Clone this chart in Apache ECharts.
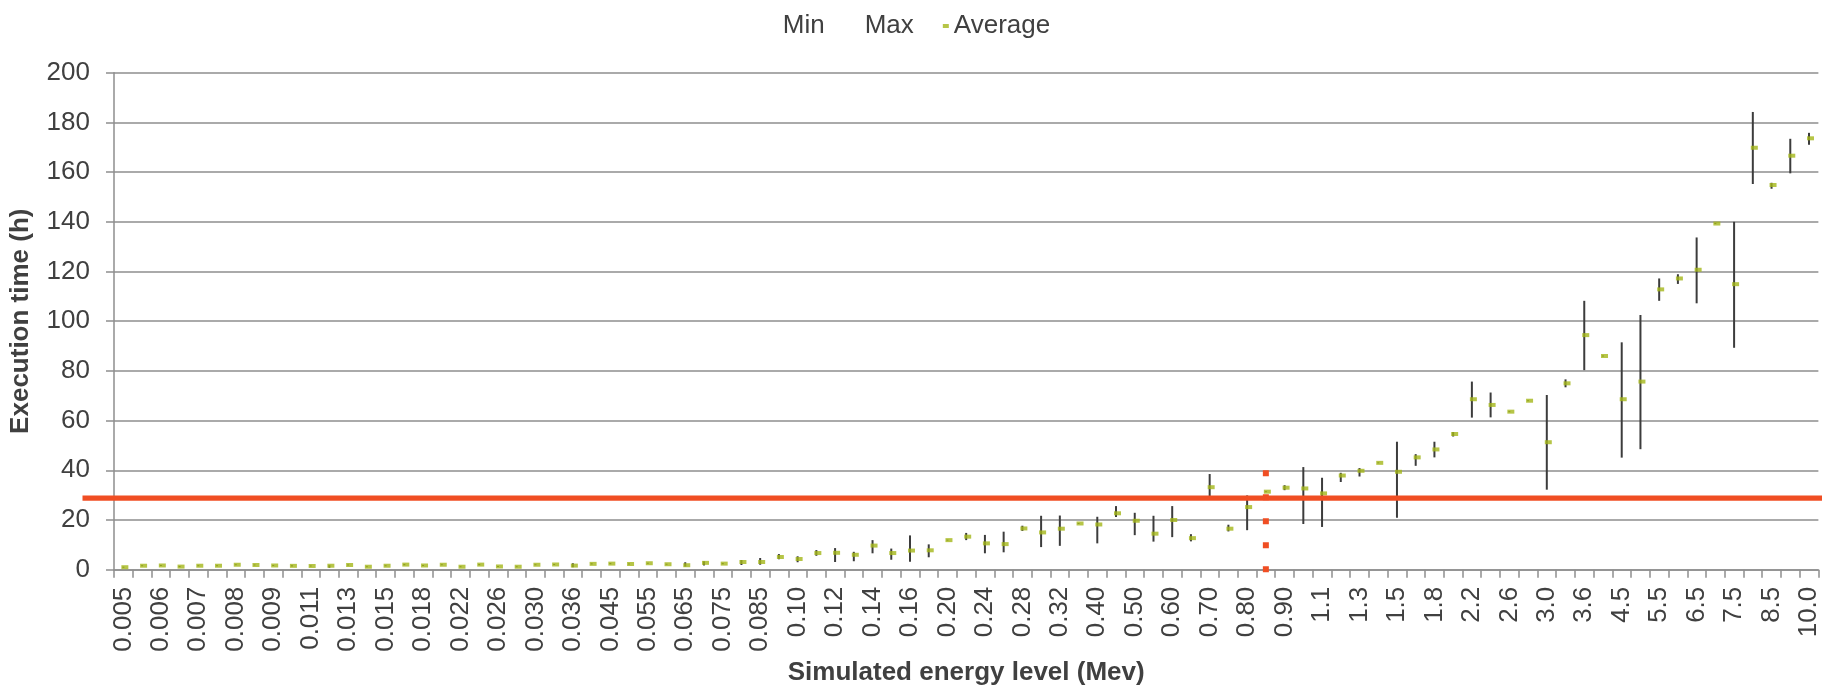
<!DOCTYPE html>
<html>
<head>
<meta charset="utf-8">
<script src="https://cdn.jsdelivr.net/npm/echarts@6/dist/echarts.min.js"></script>
<style>
html,body{margin:0;padding:0;background:#fff;}
#chart{width:1822px;height:692px;}
</style>
</head>
<body>
<div id="chart"></div>
<script>
const categories = ['0.005','0.0055','0.006','0.0065','0.007','0.0075','0.008','0.0085','0.009','0.010',
'0.011','0.012','0.013','0.014','0.015','0.016','0.018','0.020','0.022','0.024',
'0.026','0.028','0.030','0.032','0.036','0.040','0.045','0.050','0.055','0.060',
'0.065','0.070','0.075','0.080','0.085','0.090','0.10','0.11','0.12','0.13',
'0.14','0.15','0.16','0.18','0.20','0.22','0.24','0.26','0.28','0.30',
'0.32','0.36','0.40','0.45','0.50','0.55','0.60','0.65','0.70','0.75',
'0.80','0.85','0.90','1.0','1.1','1.2','1.3','1.4','1.5','1.6',
'1.8','2.0','2.2','2.4','2.6','2.8','3.0','3.2','3.6','4.0',
'4.5','5.0','5.5','6.0','6.5','7.0','7.5','8.0','8.5','9.0','10.0'];

const minValues = [0.8,1.4,1.5,1.0,1.4,1.4,1.8,1.7,1.5,1.3,
1.3,0.8,1.7,1.0,1.4,1.8,1.5,1.8,1.0,1.8,
1.1,1.0,1.8,1.9,1.0,2.1,2.2,2.1,2.4,2.0,
1.3,1.7,2.2,1.9,2.0,4.2,3.0,5.6,3.1,3.4,
6.6,4.0,3.2,5.0,11.7,11.9,6.6,7.0,15.6,9.1,
9.6,18.4,10.6,21.2,13.9,11.3,13.1,11.4,28.6,15.4,
15.9,31.2,32.0,18.4,17.2,35.3,37.5,42.8,20.9,41.8,
45.2,53.6,61.2,61.3,63.4,67.8,32.2,73.4,80.3,85.8,
45.1,48.5,108.2,115.0,107.2,139.1,89.3,155.2,153.3,159.5,171.0];

const maxValues = [1.2,1.8,1.9,1.5,1.8,1.8,2.2,2.1,1.9,1.8,
1.7,1.8,2.1,1.4,1.8,2.3,1.9,2.2,1.4,2.3,
1.5,1.4,2.2,2.3,2.6,2.6,2.7,2.5,2.8,2.4,
3.0,3.4,2.7,3.9,4.7,6.3,5.4,7.9,8.7,7.2,
11.9,8.5,13.8,10.2,12.1,14.8,14.0,15.3,17.7,21.7,
21.8,18.8,21.3,25.6,22.9,21.7,25.6,14.3,38.5,18.1,
29.9,31.6,34.0,41.3,37.0,39.0,40.9,43.2,51.5,46.5,
51.5,55.4,75.7,71.3,63.8,68.2,70.3,76.6,108.2,86.2,
91.5,102.5,117.2,118.9,133.7,139.5,140.0,184.2,155.7,173.4,175.8];

const avgValues = [1.0,1.6,1.7,1.25,1.6,1.6,2.0,1.9,1.7,1.55,
1.5,1.6,1.9,1.2,1.6,2.05,1.7,2.0,1.2,2.05,
1.3,1.2,2.0,2.1,1.65,2.35,2.45,2.3,2.6,2.2,
1.8,2.75,2.45,3.1,3.1,5.1,4.3,6.7,6.8,6.0,
9.7,6.7,7.7,7.8,11.9,13.3,10.6,10.3,16.6,15.0,
16.5,18.6,18.2,22.7,19.7,14.5,20.0,12.7,33.2,16.5,
25.2,31.4,33.0,32.7,30.7,37.9,39.8,43.0,39.4,45.2,
48.4,54.6,68.6,66.3,63.6,68.0,51.3,75.0,94.4,86.0,
68.6,75.7,112.8,117.2,120.7,139.3,114.9,169.8,154.8,166.6,173.6];

const yTicks = {min: 0, max: 200, interval: 20};
const thresholdValue = [28.8];
const markerCategory = ['0.85'];
const markerRange = [40, -1.2];

const textColor = '#404040';
const fontFamily = '"Liberation Sans", Arial, sans-serif';
const chart = echarts.init(document.getElementById('chart'));

const option = {
  animation: false,
  textStyle: {fontFamily: fontFamily, color: textColor},
  legend: {
    top: 8, left: 'center',
    itemWidth: 6, itemHeight: 4, itemGap: 29,
    textStyle: {fontSize: 26, color: textColor, fontFamily: fontFamily},
    data: [
      {name: 'Min', icon: 'none'},
      {name: 'Max', icon: 'none'},
      {name: 'Average', icon: 'rect'}
    ]
  },
  grid: [
    {left: 113, right: 3, top: 72.7, bottom: 122.3, containLabel: false},
    {left: 82.5, right: 0, top: 72.7, bottom: 122.3, containLabel: false}
  ],
  xAxis: [{
    type: 'category', gridIndex: 0, data: categories, boundaryGap: true,
    name: 'Simulated energy level (Mev)', nameLocation: 'middle', nameGap: 90,
    nameTextStyle: {fontSize: 26, fontWeight: 'bold', color: textColor, fontFamily: fontFamily},
    axisLine: {lineStyle: {color: '#8e8e8e', width: 1.5}},
    axisTick: {show: true, interval: 0, length: 8, lineStyle: {color: '#8e8e8e', width: 1.5}},
    axisLabel: {interval: 1, rotate: 90, fontSize: 26, color: textColor, margin: 17, fontFamily: fontFamily},
    splitLine: {show: false}
  }, {
    type: 'value', gridIndex: 1, min: 0, max: 1, show: false
  }],
  yAxis: [{
    type: 'value', gridIndex: 0, min: yTicks.min, max: yTicks.max, interval: yTicks.interval,
    name: 'Execution time (h)', nameLocation: 'middle', nameGap: 80,
    nameTextStyle: {fontSize: 26, fontWeight: 'bold', color: textColor, fontFamily: fontFamily},
    axisLine: {show: true, lineStyle: {color: '#8e8e8e', width: 1.5}},
    axisTick: {show: true, length: 8, lineStyle: {color: '#8e8e8e', width: 1.5}},
    axisLabel: {fontSize: 26, color: textColor, margin: 24, fontFamily: fontFamily},
    splitLine: {show: true, lineStyle: {color: '#8e8e8e', width: 1.5}}
  }, {
    type: 'value', gridIndex: 1, min: yTicks.min, max: yTicks.max, show: false
  }],
  series: [
    {
      name: 'Min', type: 'line', xAxisIndex: 0, yAxisIndex: 0, data: minValues,
      symbol: 'none', lineStyle: {opacity: 0}, silent: true, z: 1
    },
    {
      name: 'Max', type: 'line', xAxisIndex: 0, yAxisIndex: 0, data: maxValues,
      symbol: 'none', lineStyle: {opacity: 0}, silent: true, z: 1
    },
    {
      name: 'HighLow', type: 'custom', xAxisIndex: 0, yAxisIndex: 0,
      data: categories.map((c, i) => [i, minValues[i], maxValues[i]]),
      encode: {x: 0, y: [1, 2]},
      renderItem: function (params, api) {
        const x = api.value(0);
        const lo = api.coord([x, api.value(1)]);
        const hi = api.coord([x, api.value(2)]);
        return {
          type: 'line',
          shape: {x1: lo[0], y1: lo[1], x2: hi[0], y2: hi[1]},
          style: {stroke: '#3c3c3c', lineWidth: 2}
        };
      },
      z: 3
    },
    {
      name: 'Average', type: 'scatter', xAxisIndex: 0, yAxisIndex: 0, data: avgValues,
      symbol: 'rect', symbolSize: [7, 4], symbolOffset: [1.5, 0],
      itemStyle: {color: '#a4b619'}, z: 4
    },
    {
      name: 'Marker', type: 'line', xAxisIndex: 0, yAxisIndex: 0,
      data: markerRange.map(v => [markerCategory[0], v]),
      symbol: 'none', clip: false,
      lineStyle: {color: '#f04e23', width: 6, type: [6, 18], cap: 'butt'},
      z: 5
    },
    {
      name: 'Threshold', type: 'line', xAxisIndex: 1, yAxisIndex: 1,
      data: [[0, thresholdValue[0]], [1, thresholdValue[0]]],
      symbol: 'none', lineStyle: {color: '#f04e23', width: 5.3},
      silent: true, z: 10
    }
  ]
};
chart.setOption(option);
</script>
</body>
</html>
